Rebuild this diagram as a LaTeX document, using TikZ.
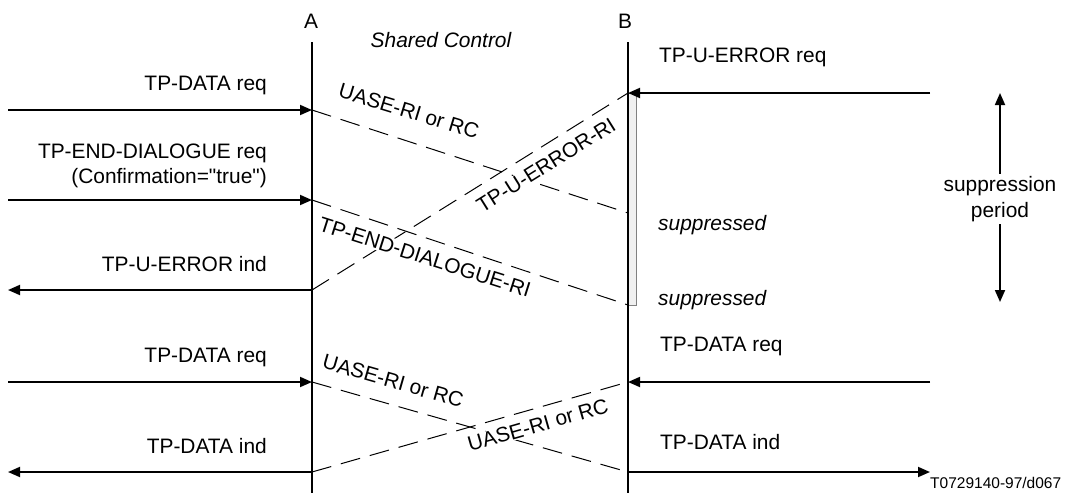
\documentclass[tikz,border=0pt]{standalone}
\usepackage{fontspec}
\setmainfont{Liberation Sans}[Ligatures=TeXOff]
\usetikzlibrary{arrows.meta}
\begin{document}
\begin{tikzpicture}[x=1pt,y=-1pt,
  lbl/.style={font=\fontsize{20.9}{26}\selectfont, inner sep=0pt},
  ilbl/.style={font=\fontsize{20.9}{26}\selectfont\itshape, inner sep=0pt},
  life/.style={line width=1.8pt},
  msg/.style={line width=1.8pt, -{Triangle[length=12pt,width=10pt]}},
  sig/.style={line width=1pt, dash pattern=on 20pt off 10pt},
  siglbl/.style={lbl, fill=white, inner sep=1pt},
]
\useasboundingbox (0,0) rectangle (1068,493);

% lifeline end points
\coordinate (Atop) at (312,42);  \coordinate (Abot) at (312,493);
\coordinate (Btop) at (628,42);  \coordinate (Bbot) at (628,493);

% message points on A
\coordinate (A1) at (312,110); \coordinate (A2) at (312,200); \coordinate (A3) at (312,290);
\coordinate (A4) at (312,382); \coordinate (A5) at (312,472);
% message points on B
\coordinate (B1) at (628,93);  \coordinate (B2) at (628,213); \coordinate (B3) at (628,305);
\coordinate (B4) at (628,382); \coordinate (B5) at (628,472);
% free ends left
\coordinate (L1) at (8,110); \coordinate (L2) at (8,200); \coordinate (L3) at (8,290);
\coordinate (L4) at (8,382); \coordinate (L5) at (8,472);
% free ends right
\coordinate (R1) at (930,93); \coordinate (R4) at (930,382); \coordinate (R5) at (930,472);
% suppression period arrow ends
\coordinate (S1) at (1000,93); \coordinate (S2) at (1000,302);

% suppression bar on B
\filldraw[fill=gray!12, draw=gray, line width=1pt] (628,93) rectangle (636,305);

% lifelines
\draw[life] (Atop) -- (Abot);
\draw[life] (Btop) -- (Bbot);
\node[lbl, anchor=base] (labA) at (311,28) {A};
\node[lbl, anchor=base] (labB) at (625,28) {B};
\node[ilbl, anchor=base] (shared) at (441,47) {Shared Control};

% dashed signals
\draw[sig] (A1) -- (B2);
\draw[sig] (A2) -- (B3);
\draw[sig] (A3) -- (B1);
\draw[sig] (A4) -- (B5);
\draw[sig] (A5) -- (B4);

\node[siglbl, rotate=-17]   (s1) at (409,111) {UASE-RI or RC};
\node[siglbl, rotate=-17.7] (s2) at (425,257) {TP-END-DIALOGUE-RI};
\node[siglbl, rotate=32]    (s3) at (546,165) {TP-U-ERROR-RI};
\node[siglbl, rotate=-16]   (s4) at (393,381) {UASE-RI or RC};
\node[siglbl, rotate=16]    (s5) at (538,425) {UASE-RI or RC};

% solid primitives
\draw[msg] (L1) -- (A1);
\draw[msg] (L2) -- (A2);
\draw[msg] (A3) -- (L3);
\draw[msg] (L4) -- (A4);
\draw[msg] (A5) -- (L5);
\draw[msg] (R1) -- (B1);
\draw[msg] (R4) -- (B4);
\draw[msg] (B5) -- (R5);

% left labels
\node[lbl, anchor=base east] (t1) at (267,90)  {TP-DATA req};
\node[lbl, anchor=base east] (t2) at (267,158) {TP-END-DIALOGUE req};
\node[lbl, anchor=base east] (t2b) at (267,183) {(Confirmation="true")};
\node[lbl, anchor=base east] (t3) at (267,271) {TP-U-ERROR ind};
\node[lbl, anchor=base east] (t4) at (267,362) {TP-DATA req};
\node[lbl, anchor=base east] (t5) at (267,453) {TP-DATA ind};

% right labels
\node[lbl, anchor=base west] (r1) at (659,62)  {TP-U-ERROR req};
\node[ilbl, anchor=base west] (sup1) at (658,230) {suppressed};
\node[ilbl, anchor=base west] (sup2) at (658,305) {suppressed};
\node[lbl, anchor=base west] (r4) at (660,351) {TP-DATA req};
\node[lbl, anchor=base west] (r5) at (660,449) {TP-DATA ind};

% suppression period
\draw[line width=1.8pt, {Triangle[length=12pt,width=10pt]}-{Triangle[length=12pt,width=10pt]}] (S1) -- (S2);
\node[lbl, fill=white, align=center, inner sep=2pt] (sp) at (1000,199) {suppression\\period};

% figure reference
\node[font=\fontsize{15.5}{18}\selectfont, inner sep=0pt, anchor=base west] (ref) at (930,488) {T0729140-97/d067};
\end{tikzpicture}
\end{document}
